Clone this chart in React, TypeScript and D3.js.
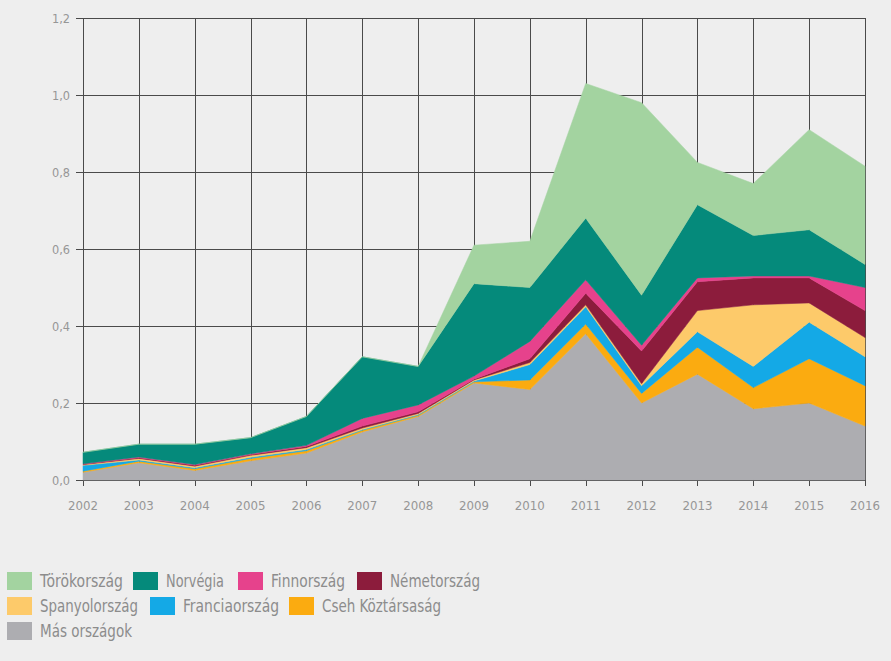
import React from "react";
import * as d3 from "d3";

const years = [2002, 2003, 2004, 2005, 2006, 2007, 2008, 2009, 2010, 2011, 2012, 2013, 2014, 2015, 2016];

const mas = [0.02, 0.045, 0.025, 0.05, 0.07, 0.125, 0.165, 0.252, 0.235, 0.38, 0.2, 0.275, 0.185, 0.2, 0.14];
const cseh = [0.003, 0.004, 0.004, 0.006, 0.006, 0.004, 0.003, 0.003, 0.025, 0.025, 0.025, 0.07, 0.055, 0.115, 0.105];
const francia = [0.015, 0.003, 0.003, 0.003, 0.003, 0.002, 0.002, 0.002, 0.04, 0.045, 0.02, 0.04, 0.055, 0.095, 0.075];
const spanyol = [0.002, 0.004, 0.004, 0.005, 0.005, 0.004, 0.003, 0.003, 0.005, 0.005, 0.005, 0.055, 0.16, 0.05, 0.05];
const nemet = [0.001, 0.002, 0.002, 0.002, 0.003, 0.005, 0.004, 0.002, 0.01, 0.03, 0.085, 0.075, 0.07, 0.065, 0.07];
const finn = [0.001, 0.002, 0.002, 0.002, 0.003, 0.02, 0.018, 0.008, 0.045, 0.035, 0.015, 0.01, 0.005, 0.005, 0.06];
const norvegia = [0.03, 0.033, 0.053, 0.042, 0.075, 0.16, 0.1, 0.24, 0.14, 0.16, 0.13, 0.19, 0.105, 0.12, 0.06];
const torok = [0, 0, 0, 0, 0, 0, 0, 0.1, 0.12, 0.35, 0.5, 0.11, 0.135, 0.26, 0.255];

const yTicks = [0, 0.2, 0.4, 0.6, 0.8, 1.0, 1.2];

const series = [
  { key: "mas", name: "Más országok", values: mas, color: "#adadb1" },
  { key: "cseh", name: "Cseh Köztársaság", values: cseh, color: "#fbab10" },
  { key: "francia", name: "Franciaország", values: francia, color: "#14a9e6" },
  { key: "spanyol", name: "Spanyolország", values: spanyol, color: "#fdca6a" },
  { key: "nemet", name: "Németország", values: nemet, color: "#8c1c3c" },
  { key: "finn", name: "Finnország", values: finn, color: "#e6428c" },
  { key: "norvegia", name: "Norvégia", values: norvegia, color: "#058a7b" },
  { key: "torok", name: "Törökország", values: torok, color: "#a3d3a0" },
];

const legendRows = [
  ["torok", "norvegia", "finn", "nemet"],
  ["spanyol", "francia", "cseh"],
  ["mas"],
];

const FONT = "'DejaVu Sans Condensed', 'DejaVu Sans', sans-serif";

export default function App() {
  const W = 891;
  const H = 661;
  const x0 = 83, x1 = 865, yTop = 18, yBot = 480;

  const x = d3.scaleLinear().domain([2002, 2016]).range([x0, x1]);
  const y = d3.scaleLinear().domain([0, 1.2]).range([yBot, yTop]);

  const table = years.map((yr, i) => {
    const row: any = { year: yr };
    series.forEach((s) => (row[s.key] = s.values[i]));
    return row;
  });
  const stack = d3.stack().keys(series.map((s) => s.key));
  const stacked = stack(table as any);

  const area = d3
    .area<any>()
    .x((d) => x(d.data.year))
    .y0((d) => y(d[0]))
    .y1((d) => y(d[1]))
    .curve(d3.curveLinear);

  const fmt = (v: number) => v.toFixed(1).replace(".", ",");

  const byKey: Record<string, any> = {};
  series.forEach((s) => (byKey[s.key] = s));

  const legendX = [
    [7, 133, 238, 357],
    [7, 150, 289],
    [7],
  ];
  const legendY = [581, 606, 631];
  const legendLen: Record<string, number> = {
    torok: 83,
    norvegia: 58,
    finn: 74,
    nemet: 90,
    spanyol: 98,
    francia: 96,
    cseh: 119,
    mas: 92,
  };

  return (
    <svg
      width={W}
      height={H}
      style={{ position: "absolute", left: 0, top: 0, background: "#eeeeee" }}
    >
      <rect x={0} y={0} width={W} height={H} fill="#eeeeee" />
      {/* grid */}
      <g stroke="#4a4a4a" strokeWidth={1}>
        {yTicks.map((t) => (
          <line key={"h" + t} x1={x0 - 7} x2={x1} y1={Math.round(y(t)) + 0.5} y2={Math.round(y(t)) + 0.5} />
        ))}
        {years.map((yr) => (
          <line key={"v" + yr} x1={Math.round(x(yr)) + 0.5} x2={Math.round(x(yr)) + 0.5} y1={yTop} y2={yBot + 6} />
        ))}
      </g>
      {/* areas */}
      <g>
        {stacked.map((layer: any, i: number) => (
          <path key={layer.key} d={area(layer) || ""} fill={series[i].color} stroke={series[i].color} strokeWidth={0.5} />
        ))}
      </g>
      {/* axis labels */}
      <g fontFamily={FONT} fontSize={13} fill="#969696">
        {yTicks.map((t) => (
          <text key={"yl" + t} x={70} y={y(t)} dy="0.35em" textAnchor="end" textLength={18} lengthAdjust="spacingAndGlyphs">
            {fmt(t)}
          </text>
        ))}
        {years.map((yr) => (
          <text key={"xl" + yr} x={x(yr)} y={505} dy="0.35em" textAnchor="middle" textLength={30} lengthAdjust="spacingAndGlyphs">
            {yr}
          </text>
        ))}
      </g>
      {/* legend */}
      <g fontFamily={FONT} fontSize={17} fill="#8c8c8c">
        {legendRows.map((row, ri) =>
          row.map((k, ci) => {
            const s = byKey[k];
            const lx = legendX[ri][ci];
            const ly = legendY[ri];
            return (
              <g key={k}>
                <rect x={lx} y={ly - 9} width={25} height={18} fill={s.color} />
                <text x={lx + 33} y={ly} dy="0.35em" textLength={legendLen[k]} lengthAdjust="spacingAndGlyphs">
                  {s.name}
                </text>
              </g>
            );
          })
        )}
      </g>
    </svg>
  );
}
